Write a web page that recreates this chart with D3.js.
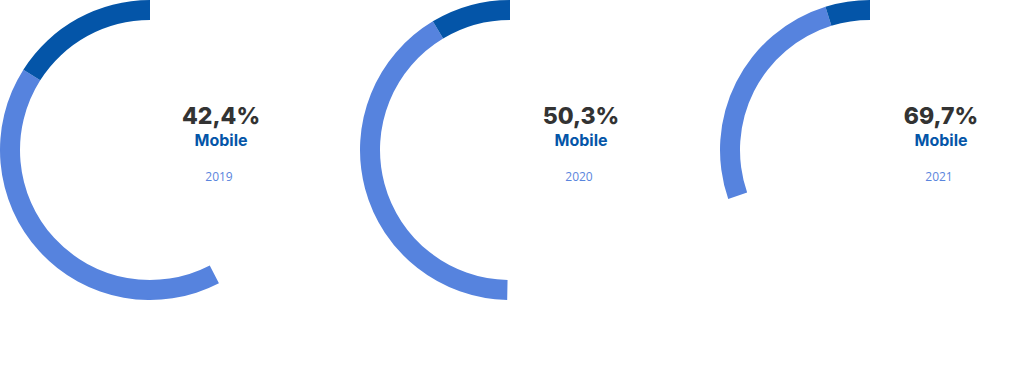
<!DOCTYPE html>
<html>
<head>
<meta charset="utf-8" />
<title>Mobile share</title>
<style>
body { margin: 0; background: #fff; }
#graph { width: 1020px; height: 378px; }
.pct { font-family: Inter, "Open Sans", sans-serif; font-weight: 800; font-size: 23px; fill: #333333; }
.lbl { font-family: Inter, "Open Sans", sans-serif; font-weight: 700; font-size: 16px; fill: #0455a8; }
.yr { font-family: "Open Sans", sans-serif; font-size: 12px; fill: #5a85dd; }
</style>
</head>
<body>
<div id="graph"></div>
<script src="https://cdnjs.cloudflare.com/ajax/libs/d3/7.8.5/d3.min.js"></script>
<script>
var years = ["2019", "2020", "2021"]
var mobile = [42.4, 50.3, 69.7]
var darkPart = [16.0, 8.6, 4.8]
var lightPart = [41.6, 41.1, 25.5]
var label = "Mobile"

!(function(){
    "use strict"

    var width = 1020, height = 378
    var outerR = 150, innerR = 130

    var svg = d3.select("#graph").append("svg")
        .attr("width", width).attr("height", height)

    var xScale = d3.scalePoint().domain(years).range([150, 870])
    // percentage -> angle, drawn counter-clockwise from the top
    var aScale = d3.scaleLinear().domain([0, 100]).range([0, -2 * Math.PI])

    var arc = d3.arc().innerRadius(innerR).outerRadius(outerR)

    var data = years.map(function(y, i){
        return { year: y, mobile: mobile[i], dark: darkPart[i], light: lightPart[i] }
    })

    var g = svg.selectAll(".ring").data(data).enter().append("g")
        .attr("class", "ring")
        .attr("transform", function(d){ return "translate(" + [xScale(d.year), 150] + ")" })

    g.append("path")
        .attr("fill", "#5683de")
        .attr("d", function(d){
            return arc({ startAngle: aScale(d.dark), endAngle: aScale(d.dark + d.light) })
        })

    g.append("path")
        .attr("fill", "#0455a8")
        .attr("d", function(d){
            return arc({ startAngle: aScale(0), endAngle: aScale(d.dark) })
        })

    g.append("text").attr("class", "pct")
        .attr("x", 71).attr("y", -26.5)
        .attr("text-anchor", "middle")
        .text(function(d){ return d.mobile.toFixed(1).replace(".", ",") + "%" })

    g.append("text").attr("class", "lbl")
        .attr("x", 71).attr("y", -4.5)
        .attr("text-anchor", "middle")
        .text(label)

    g.append("text").attr("class", "yr")
        .attr("x", 69).attr("y", 31)
        .attr("text-anchor", "middle")
        .text(function(d){ return d.year })
}());
</script>
</body>
</html>
